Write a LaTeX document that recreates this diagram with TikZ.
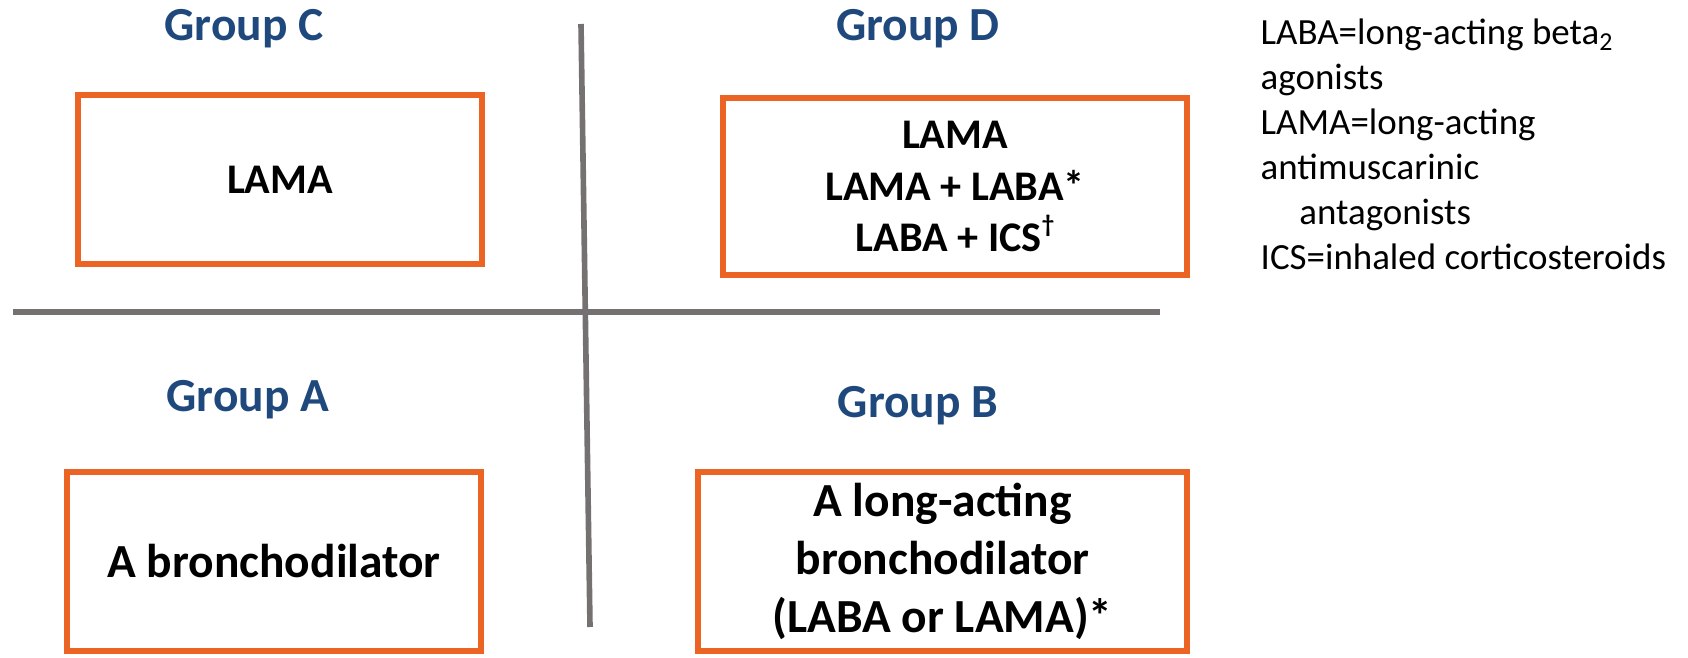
\documentclass[tikz,border=0pt]{standalone}
\usepackage{fontspec}
\setmainfont{Carlito}
\usetikzlibrary{positioning}
\definecolor{grpblue}{RGB}{31,73,125}
\definecolor{boxorange}{RGB}{235,100,35}
\definecolor{axisgray}{RGB}{118,113,113}

\begin{document}
\begin{tikzpicture}[x=0.01cm,y=-0.01cm,
  grouplabel/.style={font=\fontsize{13.5}{16.5}\selectfont\bfseries,text=grpblue,inner sep=0pt},
  drugbox/.style={draw=boxorange,line width=1.7pt,align=center,inner sep=0pt},
  bigtext/.style={font=\fontsize{13.5}{16.5}\selectfont\bfseries},
  smalltext/.style={font=\fontsize{12}{14.6}\selectfont\bfseries},
  axisline/.style={draw=axisgray,line width=1.6pt}]
\useasboundingbox (0,0) rectangle (1688,658);

% axes
\coordinate (vtop) at (581,24);
\coordinate (vbot) at (590,627);
\coordinate (hleft) at (13,312);
\coordinate (hright) at (1160,312);
\draw[axisline] (vtop) -- (vbot);
\draw[axisline] (hleft) -- (hright);

% group labels
\node[grouplabel] (grpC) at (244,29) {Group C};
\node[grouplabel] (grpD) at (918,29) {Group D};
\node[grouplabel] (grpA) at (248,400) {Group A};
\node[grouplabel] (grpB) at (918,406) {Group B};

% boxes
\node[drugbox,smalltext,minimum width=4.04cm,minimum height=1.69cm] (boxC) at (280,179.5) {LAMA};
\node[drugbox,smalltext,minimum width=4.64cm,minimum height=1.77cm] (boxD) at (955,186.5)
  {LAMA\\LAMA + LABA*\\LABA + ICS\raisebox{0.9ex}{\fontsize{7}{8}\selectfont\textdagger}};
\node[drugbox,bigtext,minimum width=4.14cm,minimum height=1.79cm] (boxA) at (274,561.5) {A bronchodilator};
\node[drugbox,bigtext,minimum width=4.89cm,minimum height=1.79cm] (boxB) at (942.5,561.5)
  {A long-acting\\bronchodilator\\(LABA or LAMA)*};

% abbreviations
\node[font=\fontsize{10.5}{12.8}\selectfont,align=left,anchor=north west,inner sep=0pt] (abbrev) at (1260,18)
  {LABA=long-acting beta\textsubscript{2}\\agonists\\LAMA=long-acting\\antimuscarinic\\\hspace*{11pt}antagonists\\ICS=inhaled corticosteroids};

\end{tikzpicture}
\end{document}
